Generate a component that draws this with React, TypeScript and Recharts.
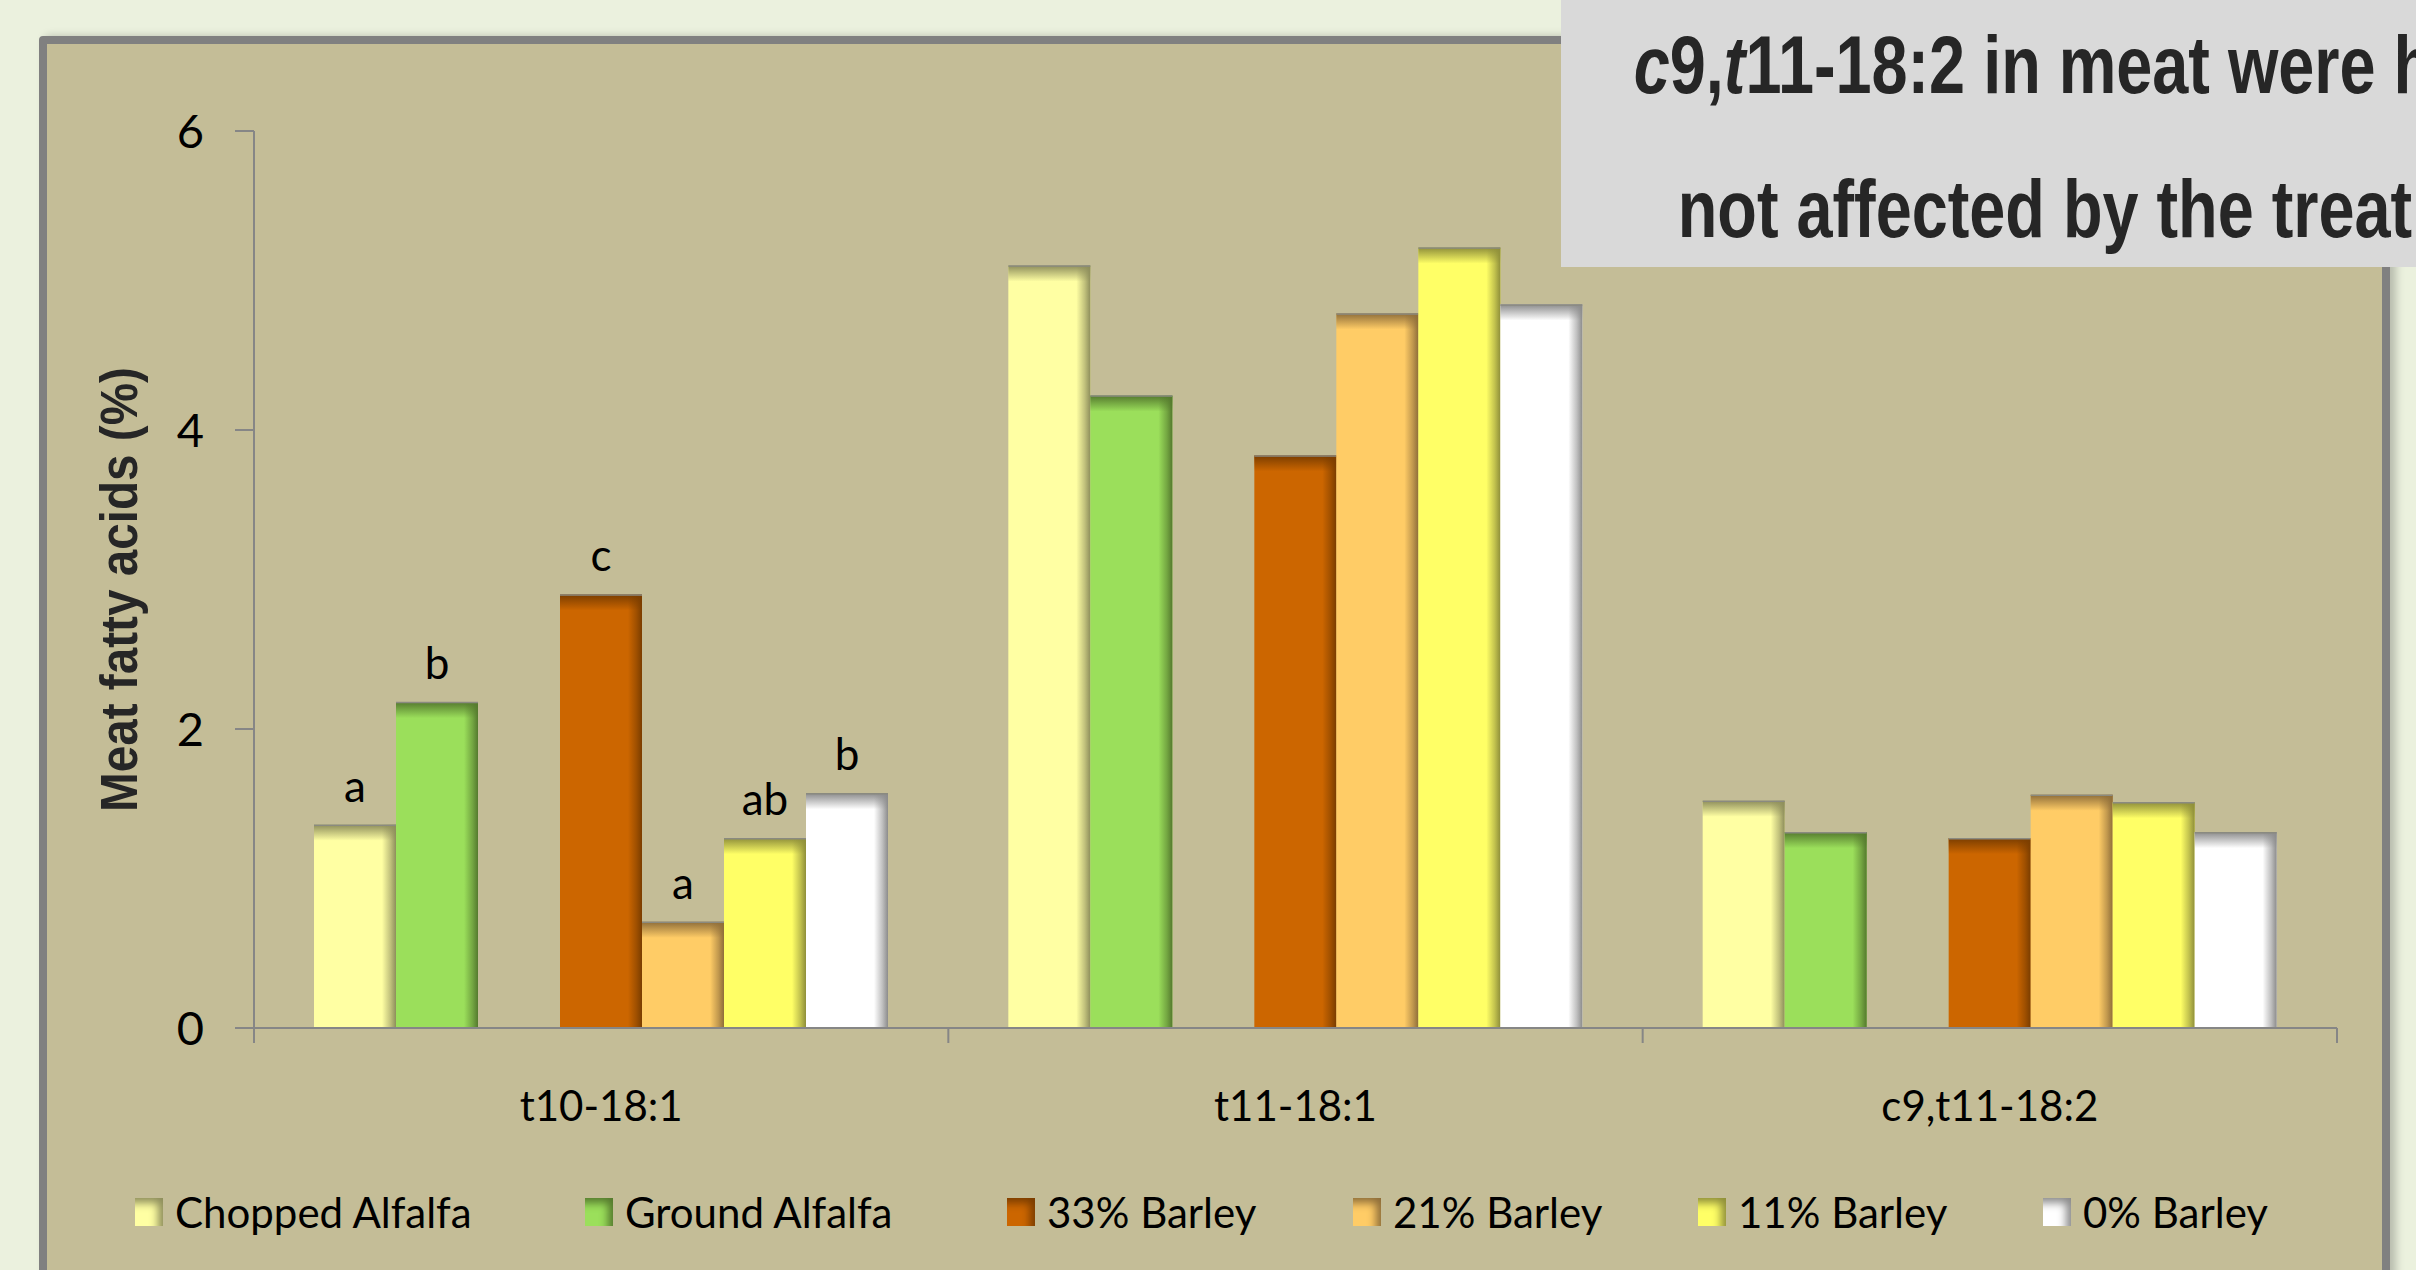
import React from "react";
import { Bar, BarChart, LabelList, Legend, XAxis, YAxis } from "recharts";

const categories = ["t10-18:1", "t11-18:1", "c9,t11-18:2"];

const choppedAlfalfa = [1.36, 5.1, 1.52];
const groundAlfalfa = [2.18, 4.23, 1.31];
const barley33 = [2.9, 3.83, 1.27];
const barley21 = [0.71, 4.78, 1.56];
const barley11 = [1.27, 5.22, 1.51];
const barley0 = [1.57, 4.84, 1.31];

const choppedLetters = ["a", "", ""];
const groundLetters = ["b", "", ""];
const barley33Letters = ["c", "", ""];
const barley21Letters = ["a", "", ""];
const barley11Letters = ["ab", "", ""];
const barley0Letters = ["b", "", ""];

const yTicks = [0, 2, 4, 6];

const alfalfaSeries = [
  { key: "chopped", name: "Chopped Alfalfa", values: choppedAlfalfa, letters: choppedLetters, fill: "#FFFFA3", edge: "#8E8E5C" },
  { key: "ground", name: "Ground Alfalfa", values: groundAlfalfa, letters: groundLetters, fill: "#9BDF5B", edge: "#557A2E" },
];
const barleySeries = [
  { key: "b33", name: "33% Barley", values: barley33, letters: barley33Letters, fill: "#CC6600", edge: "#7A3D00" },
  { key: "b21", name: "21% Barley", values: barley21, letters: barley21Letters, fill: "#FFCC66", edge: "#8F6E3A" },
  { key: "b11", name: "11% Barley", values: barley11, letters: barley11Letters, fill: "#FFFF66", edge: "#8F8F3A" },
  { key: "b0", name: "0% Barley", values: barley0, letters: barley0Letters, fill: "#FFFFFF", edge: "#8C8C8C" },
];
const allSeries = [...alfalfaSeries, ...barleySeries];

// legend slot widths (swatch-to-swatch spacing)
const legendSlots = [450, 422, 346, 345, 345, 300];

const data = categories.map((category, i) => {
  const row: any = { category, gap: null };
  allSeries.forEach((s) => {
    row[s.key] = s.values[i];
    row[s.key + "Letter"] = s.letters[i];
  });
  return row;
});

const AXIS = "#868686";

const BevelBar = (props: any) => {
  const { x, y, width, height, fill, sid } = props;
  if (!height || height <= 0) return null;
  const t = Math.min(16, height);
  return (
    <g>
      <rect x={x} y={y} width={width} height={height} fill={fill} />
      <rect x={x} y={y} width={width} height={t} fill={`url(#top-${sid})`} />
      <rect x={x + width - 14} y={y} width={14} height={height} fill={`url(#right-${sid})`} />
      <line x1={x} x2={x + width} y1={y + 0.5} y2={y + 0.5} stroke="#8a8a80" strokeWidth={1.5} />
    </g>
  );
};

const CategoryTick = (props: any) => {
  const { x, y, payload, index, width } = props;
  const band = (Number(width) || 2083) / categories.length;
  return (
    <g>
      <text x={x} y={y + 93} textAnchor="middle" fontFamily="Lato" fontSize={42} fill="#000">
        {payload.value}
      </text>
      <line x1={x + band / 2} x2={x + band / 2} y1={y} y2={y + 15} stroke={AXIS} strokeWidth={2} />
      {index === 0 && <line x1={x - band / 2} x2={x - band / 2} y1={y} y2={y + 15} stroke={AXIS} strokeWidth={2} />}
    </g>
  );
};

const YLabel = (props: any) => {
  const vb = props.viewBox || { x: 0, y: 131, height: 897 };
  const cx = vb.x + 137;
  const cy = vb.y + vb.height / 2 + 10;
  return (
    <text
      transform={`translate(${cx},${cy}) rotate(-90)`}
      textAnchor="middle"
      fontFamily="Liberation Sans, Arial, sans-serif"
      fontWeight="bold"
      fontSize={51}
      textLength={445}
      lengthAdjust="spacingAndGlyphs"
      fill="#262626"
    >
      Meat fatty acids (%)
    </text>
  );
};

const LegendContent = (props: any) => {
  const payload = props.payload || [];
  const items = allSeries.filter((s) => payload.some((p: any) => p.dataKey === s.key));
  return (
    <div style={{ display: "flex", alignItems: "center", paddingLeft: 135, fontFamily: "Lato", fontSize: 42, lineHeight: "42px", color: "#000", whiteSpace: "nowrap" }}>
      {items.map((s, i) => (
        <div key={s.key} style={{ display: "flex", alignItems: "center", width: legendSlots[i], flex: "none" }}>
          <span style={{ display: "inline-block", width: 28, height: 28, background: s.fill, boxShadow: `inset -8px 8px 8px -3px ${s.edge}`, marginRight: 12 }} />
          <span>{s.name}</span>
        </div>
      ))}
    </div>
  );
};

const renderBar = (s: any) => (
  <Bar
    key={s.key}
    dataKey={s.key}
    name={s.name}
    fill={s.fill}
    barSize={82}
    isAnimationActive={false}
    shape={(p: any) => <BevelBar {...p} sid={s.key} />}
  >
    <LabelList dataKey={s.key + "Letter"} position="top" offset={23} fontFamily="Lato" fontSize={44} fill="#000" />
  </Bar>
);

export default function App() {
  return (
    <div style={{ position: "fixed", left: 0, top: 0, width: 2416, height: 1270, background: "#EBF1DE", overflow: "hidden" }}>
      <div
        style={{
          position: "absolute",
          left: 39,
          top: 36,
          width: 2351,
          height: 1300,
          background: "#C4BD97",
          border: "8px solid #808080",
          boxSizing: "border-box",
          borderRadius: 4,
          boxShadow: "6px 0 8px rgba(0,0,0,0.22)",
        }}
      />
      <div style={{ position: "absolute", left: 0, top: 0 }}>
        <BarChart width={2416} height={1270} data={data} barGap={0} margin={{ top: 131, right: 79, bottom: 0, left: 0 }}>
          <defs>
            {allSeries.map((s) => (
              <linearGradient key={"t" + s.key} id={`top-${s.key}`} x1="0" y1="0" x2="0" y2="1">
                <stop offset="0" stopColor={s.edge} stopOpacity={1} />
                <stop offset="0.45" stopColor={s.edge} stopOpacity={0.55} />
                <stop offset="1" stopColor={s.edge} stopOpacity={0} />
              </linearGradient>
            ))}
            {allSeries.map((s) => (
              <linearGradient key={"r" + s.key} id={`right-${s.key}`} x1="0" y1="0" x2="1" y2="0">
                <stop offset="0" stopColor={s.edge} stopOpacity={0} />
                <stop offset="0.6" stopColor={s.edge} stopOpacity={0.55} />
                <stop offset="1" stopColor={s.edge} stopOpacity={1} />
              </linearGradient>
            ))}
          </defs>
          <XAxis
            dataKey="category"
            height={242}
            tickLine={false}
            tickSize={0}
            tickMargin={0}
            axisLine={{ stroke: AXIS, strokeWidth: 2 }}
            tick={<CategoryTick />}
            interval={0}
          />
          <YAxis
            domain={[0, 6]}
            ticks={yTicks}
            width={254}
            tickSize={19}
            tickMargin={31}
            axisLine={{ stroke: AXIS, strokeWidth: 2 }}
            tickLine={{ stroke: AXIS, strokeWidth: 2 }}
            tick={{ fontFamily: "Lato", fontSize: 47, fill: "#000" }}
            label={<YLabel />}
          />
          {alfalfaSeries.map(renderBar)}
          <Bar dataKey="gap" legendType="none" barSize={82} isAnimationActive={false} fill="none" />
          {barleySeries.map(renderBar)}
          <Legend
            layout="horizontal"
            verticalAlign="middle"
            align="center"
            content={<LegendContent />}
            wrapperStyle={{ left: 0, top: 1191, width: 2416, height: 42 }}
          />
        </BarChart>
      </div>
      <div style={{ position: "absolute", left: 1561, top: 0, width: 900, height: 267, background: "#D9D9D9" }}>
        <svg width={900} height={267}>
          <text fontFamily="Liberation Sans, Arial, sans-serif" fontWeight="bold" fontSize={81} fill="#262626" transform="scale(0.8,1)">
            <tspan x={91} y={93}>
              <tspan fontStyle="italic">c</tspan>9,<tspan fontStyle="italic">t</tspan>11-18:2 in meat were high and
            </tspan>
            <tspan x={146} y={237}>not affected by the treatments</tspan>
          </text>
        </svg>
      </div>
    </div>
  );
}
